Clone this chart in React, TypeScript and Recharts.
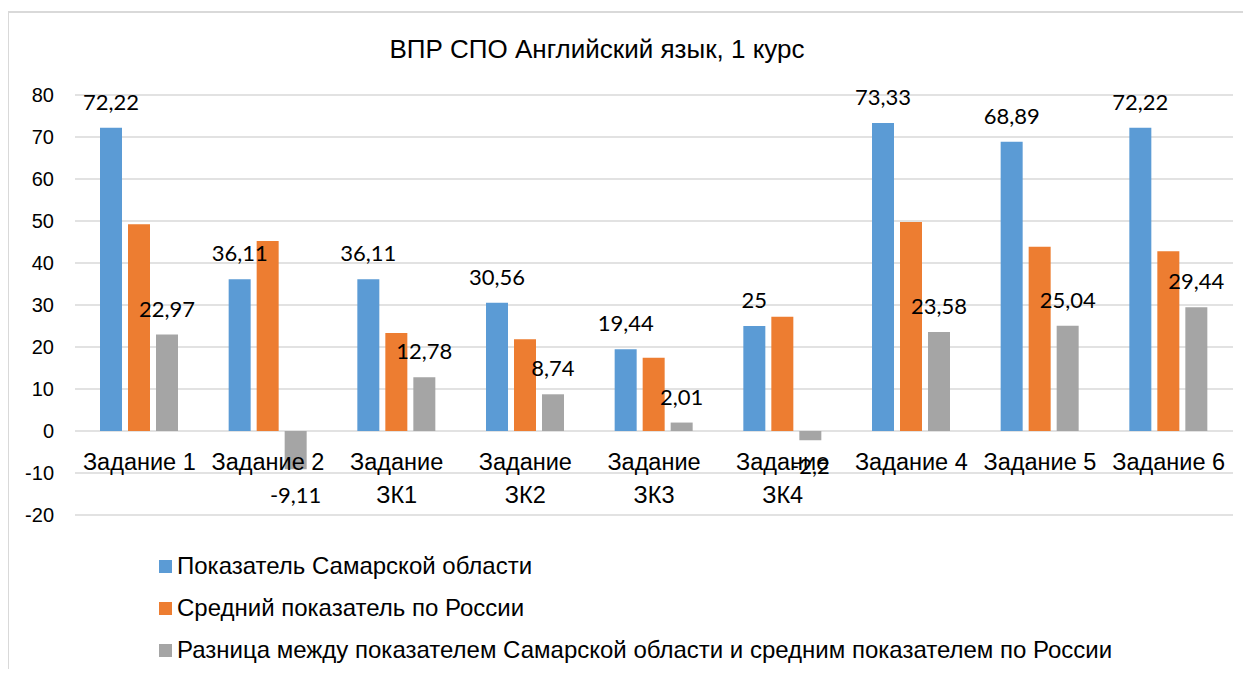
import React from 'react';
import { BarChart, Bar, XAxis, YAxis, CartesianGrid, Legend, LabelList } from 'recharts';

const categories = ['Задание 1', 'Задание 2', 'Задание ЗК1', 'Задание ЗК2', 'Задание ЗК3', 'Задание ЗК4', 'Задание 4', 'Задание 5', 'Задание 6'];
const samara = [72.22, 36.11, 36.11, 30.56, 19.44, 25, 73.33, 68.89, 72.22];
const russia = [49.25, 45.22, 23.33, 21.82, 17.43, 27.2, 49.75, 43.85, 42.78];
const diff = [22.97, -9.11, 12.78, 8.74, 2.01, -2.2, 23.58, 25.04, 29.44];
const yTicks = [-20, -10, 0, 10, 20, 30, 40, 50, 60, 70, 80];

const seriesNames = {
  samara: 'Показатель Самарской области',
  russia: 'Средний показатель по России',
  diff: 'Разница между показателем Самарской области и средним показателем по России',
};
const legendOrder = [seriesNames.samara, seriesNames.russia, seriesNames.diff];

const data = categories.map((name, i) => ({ name, samara: samara[i], russia: russia[i], diff: diff[i] }));

const FONT = '"Liberation Sans", Arial, sans-serif';
const fmt = (v: any) => String(v).replace('.', ',');

const CategoryTick = (props: any) => {
  const { x, y, payload } = props;
  const label: string = payload.value;
  const lines = label.length > 10 ? label.split(' ') : [label];
  return (
    <g>
      {lines.map((ln, i) => (
        <text key={i} x={x} y={y - 45 + i * 33} textAnchor="middle" fontFamily={FONT} fontSize={23.5} fill="#000">
          {ln}
        </text>
      ))}
    </g>
  );
};

const LegendContent = (props: any) => {
  const items = [...(props.payload || [])].sort((a: any, b: any) => legendOrder.indexOf(a.value) - legendOrder.indexOf(b.value));
  return (
    <div style={{ fontFamily: FONT, fontSize: 24, color: '#000' }}>
      {items.map((p: any) => (
        <div key={p.value} style={{ display: 'flex', alignItems: 'center', height: 42 }}>
          <span style={{ width: 13, height: 13, background: p.color, marginRight: 5, display: 'inline-block' }} />
          <span>{p.value}</span>
        </div>
      ))}
    </div>
  );
};

export default function App() {
  return (
    <div style={{ position: 'relative', width: 1251, height: 677, margin: -8, overflow: 'hidden', background: '#fff' }}>
      <div style={{ position: 'absolute', left: 7, top: 11, width: 1400, height: 800, border: '2px solid #d9d9d9', boxSizing: 'border-box' }} />
      <div style={{ position: 'absolute', left: 0, width: 1194, top: 34, textAlign: 'center', fontFamily: FONT, fontSize: 26, color: '#000' }}>
        ВПР СПО Английский язык, 1 курс
      </div>
      <div style={{ position: 'absolute', left: 0, top: 0 }}>
        <BarChart width={1251} height={677} data={data} margin={{ top: 95, right: 18, left: 0, bottom: 132 }} barSize={22} barGap={6}>
          <CartesianGrid vertical={false} stroke="#d9d9d9" strokeWidth={1.5} />
          <XAxis dataKey="name" axisLine={false} tickLine={false} tickSize={0} tickMargin={0} height={30} interval={0} tick={<CategoryTick />} />
          <YAxis domain={[-20, 80]} ticks={yTicks} width={75} axisLine={false} tickLine={false} tickSize={0} tickMargin={21} tick={{ fontFamily: FONT, fontSize: 20, fill: '#000' }} />
          <Legend layout="vertical" align="center" verticalAlign="middle" content={<LegendContent />} wrapperStyle={{ top: 545, left: 159, width: 1050 }} />
          <Bar dataKey="samara" name={seriesNames.samara} fill="#5B9BD5" isAnimationActive={false}>
            <LabelList dataKey="samara" position="top" offset={18} formatter={fmt} style={{ fontFamily: 'Lato, sans-serif', fontSize: 22, fill: '#000' }} />
          </Bar>
          <Bar dataKey="russia" name={seriesNames.russia} fill="#ED7D31" isAnimationActive={false} />
          <Bar dataKey="diff" name={seriesNames.diff} fill="#A5A5A5" isAnimationActive={false}>
            <LabelList dataKey="diff" position="top" offset={18} formatter={fmt} style={{ fontFamily: 'Lato, sans-serif', fontSize: 22, fill: '#000' }} />
          </Bar>
        </BarChart>
      </div>
    </div>
  );
}
